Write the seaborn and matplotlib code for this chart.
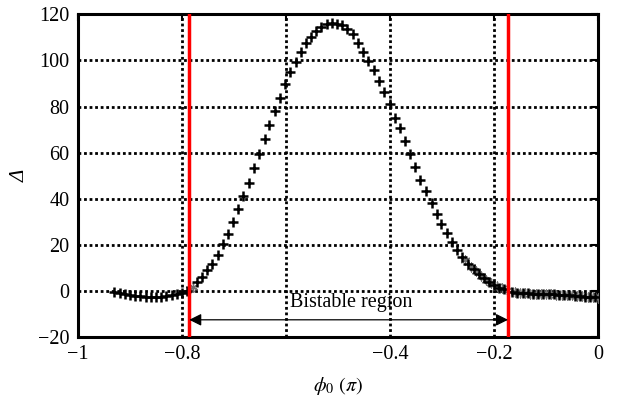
import numpy as np
import pandas as pd
import matplotlib
matplotlib.use("Agg")
import matplotlib.pyplot as plt
import seaborn as sns

# ---- data ----
phi_main = [-0.93, -0.92, -0.91, -0.90, -0.89, -0.88, -0.87, -0.86, -0.85, -0.84,
            -0.83, -0.82, -0.81, -0.80, -0.79,
            -0.772, -0.762, -0.751, -0.742, -0.731, -0.722, -0.712, -0.702, -0.692,
            -0.683, -0.672, -0.661, -0.651, -0.641, -0.632, -0.622, -0.612, -0.602,
            -0.592, -0.581, -0.571, -0.561, -0.552, -0.542, -0.533, -0.522, -0.512,
            -0.502, -0.493, -0.483, -0.472, -0.461, -0.451, -0.442, -0.431, -0.421,
            -0.411, -0.400, -0.390, -0.381, -0.371, -0.362, -0.352, -0.342, -0.331,
            -0.320, -0.310, -0.301, -0.291, -0.281, -0.271, -0.261, -0.250, -0.239,
            -0.228, -0.219, -0.209, -0.199, -0.190, -0.180,
            -0.165, -0.155, -0.145, -0.135, -0.125, -0.115, -0.105, -0.095, -0.085,
            -0.075, -0.065, -0.055, -0.045, -0.035, -0.025, -0.015, -0.005]
delta_main = [-0.5, -1.0, -1.5, -1.9, -2.2, -2.4, -2.6, -2.7, -2.7, -2.6,
              -2.4, -2.0, -1.6, -1.0, -0.3,
              3.6, 6.2, 9.0, 11.8, 15.6, 20.3, 24.6, 29.9, 35.3,
              41.2, 47.0, 53.1, 59.3, 66.0, 71.9, 78.1, 83.9, 89.7,
              95.1, 99.5, 103.9, 107.5, 110.4, 112.9, 114.6, 115.8, 116.3,
              116.0, 115.3, 113.6, 111.4, 107.4, 103.9, 99.8, 95.8, 91.2,
              86.5, 81.0, 75.2, 70.5, 65.1, 59.3, 53.8, 48.1, 43.4,
              38.3, 33.3, 29.0, 25.0, 21.0, 17.8, 14.8, 11.6, 9.4,
              7.5, 5.5, 3.9, 2.6, 1.4, 0.6,
              -0.6, -0.8, -0.9, -1.1, -1.2, -1.3, -1.4, -1.5, -1.6,
              -1.7, -1.8, -1.9, -2.1, -2.3, -2.5, -2.7, -2.9]

phi_second = [-0.785, -0.778, -0.255, -0.245, -0.235, -0.225, -0.215, -0.205, -0.195,
              -0.185, -0.175, -0.16, -0.15, -0.14, -0.13, -0.12, -0.11, -0.10,
              -0.09, -0.08, -0.07, -0.06, -0.05, -0.04, -0.03, -0.02, -0.01, 0.0]
delta_second = [0.6, 1.8, 13.2, 10.5, 8.4, 6.5, 4.7, 3.2, 2.0,
                1.0, 0.4, -0.7, -0.9, -1.0, -1.2, -1.3, -1.4, -1.5,
                -1.6, -1.7, -1.8, -1.9, -2.0, -2.2, -2.4, -2.6, -2.8, -3.0]

bistable_left = -0.786
bistable_right = -0.173

xticks = [-1.0, -0.8, -0.6, -0.4, -0.2, 0.0]
xticklabels = ["\u22121", "\u22120.8", "", "\u22120.4", "\u22120.2", "0"]
yticks = [-20, 0, 20, 40, 60, 80, 100, 120]
yticklabels = ["\u221220", "0", "20", "40", "60", "80", "100", "120"]

# ---- style ----
sns.set_theme(style="white")
plt.rcParams["font.family"] = ["Liberation Serif", "DejaVu Serif"]
plt.rcParams["mathtext.fontset"] = "stix"

fig = plt.figure(figsize=(6.19, 4.01), dpi=100)
ax = fig.add_axes([0.126, 0.160, 0.840, 0.804])

df_main = pd.DataFrame({"phi": phi_main, "delta": delta_main})
df_second = pd.DataFrame({"phi": phi_second, "delta": delta_second})

sns.scatterplot(data=df_second, x="phi", y="delta", marker=(6, 2, 0), s=40,
                color="#707070", linewidth=1.0, ax=ax, zorder=3)
sns.scatterplot(data=df_main, x="phi", y="delta", marker="+", s=55,
                color="black", linewidth=1.8, ax=ax, zorder=4)

ax.set_xlim(-1, 0)
ax.set_ylim(-20, 120)
ax.set_xticks(xticks)
ax.set_xticklabels(xticklabels)
ax.set_yticks(yticks)
ax.set_yticklabels(yticklabels)

ax.grid(True, color="black", linestyle=(0, (1, 1.0)), linewidth=2.0, zorder=1)
ax.set_axisbelow(True)

for sp in ax.spines.values():
    sp.set_color("black")
    sp.set_linewidth(2.2)

ax.tick_params(direction="in", length=5, width=1.5, top=True, right=True,
               labelsize=14.5, colors="black", pad=6)

ax.axvline(bistable_left, color="red", linewidth=2.5, zorder=5)
ax.axvline(bistable_right, color="red", linewidth=2.5, zorder=5)

ax.annotate("", xy=(bistable_left, -12.6), xytext=(bistable_right, -12.6),
            arrowprops=dict(arrowstyle="<|-|>", color="black", lw=0.9,
                            mutation_scale=18, shrinkA=0, shrinkB=0), zorder=6)
ax.text(-0.474, -5.3, "Bistable region", fontsize=14.5, ha="center", va="center",
        color="black", zorder=6)

ax.set_xlabel(r"$\phi_0\ (\pi)$", fontsize=14.5, color="black", labelpad=8)
ax.set_ylabel("\u0394", fontsize=15, fontstyle="italic", color="black", labelpad=6)

fig.savefig("out.png", dpi=100)
